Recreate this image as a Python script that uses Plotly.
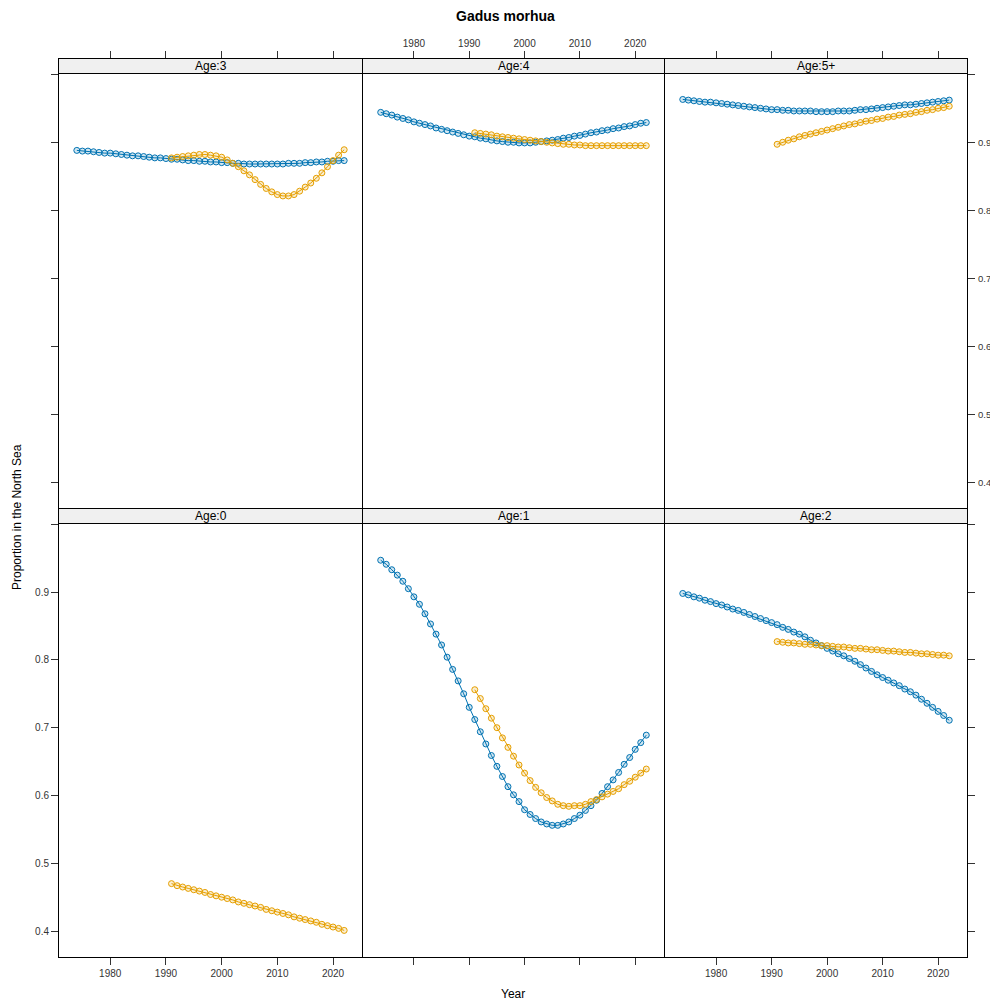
import plotly.graph_objects as go

# ---------------- data ----------------
panels = ["Age:3", "Age:4", "Age:5+", "Age:0", "Age:1", "Age:2"]

years_blue = list(range(1974, 2023))
years_orange = list(range(1991, 2023))

blue_age3 = [0.888, 0.887, 0.887, 0.886, 0.885, 0.884, 0.884, 0.883, 0.882, 0.881,
             0.880, 0.880, 0.879, 0.878, 0.877, 0.877, 0.876, 0.875, 0.875, 0.874,
             0.873, 0.873, 0.872, 0.872, 0.871, 0.871, 0.870, 0.870, 0.869, 0.869,
             0.868, 0.868, 0.868, 0.868, 0.868, 0.868, 0.868, 0.868, 0.869, 0.869,
             0.869, 0.870, 0.870, 0.871, 0.871, 0.872, 0.872, 0.873, 0.873]
orange_age3 = [0.877, 0.878, 0.879, 0.880, 0.881, 0.882, 0.882, 0.881, 0.880, 0.878,
               0.874, 0.869, 0.864, 0.858, 0.852, 0.845, 0.838, 0.832, 0.827, 0.823,
               0.821, 0.821, 0.823, 0.828, 0.834, 0.840, 0.847, 0.855, 0.864, 0.873,
               0.881, 0.889]

blue_age4 = [0.944, 0.942, 0.940, 0.937, 0.935, 0.933, 0.930, 0.928, 0.926, 0.924,
             0.921, 0.919, 0.917, 0.915, 0.913, 0.911, 0.909, 0.908, 0.906, 0.905,
             0.903, 0.902, 0.901, 0.900, 0.900, 0.899, 0.899, 0.899, 0.900, 0.901,
             0.902, 0.903, 0.904, 0.906, 0.907, 0.909, 0.910, 0.912, 0.914, 0.915,
             0.917, 0.918, 0.920, 0.921, 0.923, 0.924, 0.926, 0.928, 0.929]
orange_age4 = [0.914, 0.913, 0.912, 0.911, 0.909, 0.908, 0.907, 0.906, 0.905, 0.904,
               0.903, 0.902, 0.901, 0.900, 0.899, 0.898, 0.897, 0.897, 0.896, 0.896,
               0.895, 0.895, 0.895, 0.895, 0.895, 0.895, 0.895, 0.895, 0.895, 0.895,
               0.895, 0.895]

blue_age5 = [0.963, 0.962, 0.961, 0.960, 0.959, 0.959, 0.958, 0.957, 0.956, 0.955,
             0.954, 0.953, 0.952, 0.951, 0.950, 0.949, 0.948, 0.948, 0.947, 0.947,
             0.946, 0.946, 0.946, 0.946, 0.945, 0.945, 0.945, 0.945, 0.946, 0.946,
             0.946, 0.947, 0.948, 0.948, 0.949, 0.950, 0.951, 0.952, 0.953, 0.954,
             0.955, 0.955, 0.956, 0.957, 0.958, 0.959, 0.960, 0.961, 0.962]
orange_age5 = [0.897, 0.900, 0.903, 0.905, 0.908, 0.910, 0.912, 0.914, 0.916, 0.918,
               0.920, 0.922, 0.924, 0.926, 0.927, 0.929, 0.931, 0.932, 0.934, 0.935,
               0.937, 0.938, 0.940, 0.941, 0.942, 0.944, 0.945, 0.947, 0.948, 0.950,
               0.951, 0.953]

blue_age0 = []
orange_age0 = [0.470, 0.467, 0.465, 0.463, 0.461, 0.459, 0.457, 0.454, 0.452, 0.450,
               0.448, 0.446, 0.443, 0.441, 0.439, 0.437, 0.435, 0.432, 0.430, 0.428,
               0.426, 0.424, 0.421, 0.419, 0.417, 0.415, 0.413, 0.410, 0.408, 0.406,
               0.404, 0.401]

blue_age1 = [0.947, 0.941, 0.933, 0.925, 0.916, 0.905, 0.893, 0.882, 0.868, 0.853,
             0.838, 0.822, 0.804, 0.786, 0.769, 0.750, 0.730, 0.712, 0.694, 0.676,
             0.659, 0.643, 0.628, 0.613, 0.601, 0.591, 0.579, 0.572, 0.566, 0.561,
             0.558, 0.556, 0.556, 0.558, 0.561, 0.566, 0.571, 0.578, 0.585, 0.593,
             0.603, 0.613, 0.623, 0.634, 0.646, 0.656, 0.668, 0.678, 0.689]
orange_age1 = [0.756, 0.743, 0.728, 0.714, 0.700, 0.685, 0.671, 0.658, 0.645, 0.633,
               0.622, 0.612, 0.604, 0.597, 0.592, 0.587, 0.585, 0.584, 0.585, 0.585,
               0.587, 0.591, 0.594, 0.598, 0.602, 0.606, 0.610, 0.616, 0.621, 0.627,
               0.633, 0.639]

blue_age2 = [0.898, 0.896, 0.893, 0.891, 0.888, 0.886, 0.883, 0.881, 0.878, 0.875,
             0.873, 0.870, 0.867, 0.864, 0.861, 0.858, 0.855, 0.852, 0.848, 0.845,
             0.841, 0.838, 0.834, 0.829, 0.825, 0.821, 0.817, 0.813, 0.809, 0.806,
             0.802, 0.798, 0.793, 0.788, 0.783, 0.778, 0.774, 0.770, 0.766, 0.762,
             0.757, 0.753, 0.748, 0.742, 0.736, 0.730, 0.724, 0.718, 0.711]
orange_age2 = [0.827, 0.826, 0.825, 0.825, 0.824, 0.823, 0.823, 0.822, 0.821, 0.821,
               0.820, 0.819, 0.819, 0.818, 0.817, 0.817, 0.816, 0.815, 0.815, 0.814,
               0.813, 0.813, 0.812, 0.811, 0.811, 0.810, 0.809, 0.809, 0.808, 0.807,
               0.807, 0.806]

blue_series = [blue_age3, blue_age4, blue_age5, blue_age0, blue_age1, blue_age2]
orange_series = [orange_age3, orange_age4, orange_age5, orange_age0, orange_age1, orange_age2]

x_ticks = [1980, 1990, 2000, 2010, 2020]
y_ticks = [0.4, 0.5, 0.6, 0.7, 0.8, 0.9, 1.0]
y_tick_text = ["0.4", "0.5", "0.6", "0.7", "0.8", "0.9", ""]

# ---------------- layout geometry ----------------
W, H = 990, 1003
BLUE = "#0072B2"
ORANGE = "#E69F00"
FONT = "Liberation Sans, Arial, sans-serif"


def fx(p):
    return p / W


def fy(p):
    return 1 - p / H


# neighbouring domains are offset by 1px so the shared borders overlap exactly
col_edges = [(59, 362), (363, 664), (665, 967)]
# (strip_top, panel_top, panel_bottom)
row_edges = [(59, 73, 508), (509, 523, 957)]
X_RANGE = [1970.8, 2025.2]
Y0, Y1 = 0.3618, 1.0019

fig = go.Figure()
shapes = []
annotations = []

for i, name in enumerate(panels):
    r, c = divmod(i, 3)
    xl, xr = col_edges[c]
    st, pt, pb = row_edges[r]
    k = i + 1
    xa = "x" if k == 1 else f"x{k}"
    ya = "y" if k == 1 else f"y{k}"

    per_px = (Y1 - Y0) / (pb - pt)
    y_top = Y1 + (pt - st) * per_px

    if blue_series[i]:
        fig.add_trace(go.Scatter(
            x=years_blue, y=blue_series[i], mode="lines+markers",
            line=dict(color=BLUE, width=1),
            marker=dict(symbol="circle", size=6, color="rgba(0,114,178,0.18)",
                        line=dict(color=BLUE, width=1)),
            xaxis=xa, yaxis=ya, showlegend=False))
    if orange_series[i]:
        fig.add_trace(go.Scatter(
            x=years_orange, y=orange_series[i], mode="lines+markers",
            line=dict(color=ORANGE, width=1),
            marker=dict(symbol="circle", size=6, color="rgba(230,159,0,0.18)",
                        line=dict(color=ORANGE, width=1)),
            xaxis=xa, yaxis=ya, showlegend=False))

    top_row = r == 0
    xaxis = dict(
        domain=[fx(xl), fx(xr)], anchor=ya, range=X_RANGE,
        tickvals=x_ticks, ticks="outside", ticklen=7, tickwidth=1, tickcolor="#333",
        side="top" if top_row else "bottom",
        showticklabels=(c == 1) if top_row else (c != 1),
        showline=True, linecolor="black", linewidth=1, mirror=True,
        showgrid=False, zeroline=False,
        tickfont=dict(family=FONT, size=10, color="#333"),
    )
    yaxis = dict(
        domain=[fy(pb), fy(st)], anchor=xa, range=[Y0, y_top],
        tickvals=y_ticks, ticktext=y_tick_text,
        ticks="" if c == 1 else "outside", ticklen=7,
        tickwidth=1, tickcolor="#333",
        side="right" if c == 2 else "left",
        showticklabels=(c == 0 and r == 1),
        showline=True, linecolor="black", linewidth=1, mirror=True,
        showgrid=False, zeroline=False,
        tickfont=dict(family=FONT, size=10, color="#333"),
    )
    fig.layout["xaxis" if k == 1 else f"xaxis{k}"] = xaxis
    fig.layout["yaxis" if k == 1 else f"yaxis{k}"] = yaxis

    shapes.append(dict(type="rect", xref="paper", yref="paper",
                       x0=fx(xl), x1=fx(xr), y0=fy(pt), y1=fy(st),
                       fillcolor="#F0F0F0", line=dict(width=0),
                       layer="below"))
    shapes.append(dict(type="line", xref="paper", yref="paper",
                       x0=fx(xl), x1=fx(xr), y0=fy(pt + 0.5), y1=fy(pt + 0.5),
                       line=dict(color="black", width=1), layer="above"))
    annotations.append(dict(text=name, xref="paper", yref="paper",
                            x=fx((xl + xr) / 2), y=fy((st + pt) / 2),
                            xanchor="center", yanchor="middle", showarrow=False,
                            font=dict(family=FONT, size=12, color="black")))

    # right-hand tick labels of the top-right panel
    if r == 0 and c == 2:
        for v, t in zip(y_ticks, y_tick_text):
            if t:
                ypix = pt + (Y1 - v) / per_px
                annotations.append(dict(text=t, xref="paper", yref="paper",
                                        x=fx(976), y=fy(ypix), xanchor="left",
                                        yanchor="middle", showarrow=False,
                                        font=dict(family=FONT, size=9.5, color="#333")))

annotations.append(dict(text="<b>Gadus morhua</b>", xref="paper", yref="paper",
                        x=fx(506), y=fy(16), xanchor="center", yanchor="middle",
                        showarrow=False, font=dict(family=FONT, size=14, color="black")))
annotations.append(dict(text="Year", xref="paper", yref="paper",
                        x=fx(513), y=fy(994), xanchor="center", yanchor="middle",
                        showarrow=False, font=dict(family=FONT, size=12, color="black")))
annotations.append(dict(text="Proportion in the North Sea", xref="paper", yref="paper",
                        x=fx(17), y=fy(517), xanchor="center", yanchor="middle",
                        textangle=-90, showarrow=False,
                        font=dict(family=FONT, size=12, color="black")))

fig.update_layout(
    width=W, height=H,
    margin=dict(l=0, r=0, t=0, b=0),
    paper_bgcolor="white", plot_bgcolor="white",
    shapes=shapes, annotations=annotations,
    showlegend=False,
)

fig.write_html(
    "out.html",
    config={"displayModeBar": False},
    post_script="document.body.style.margin='0';document.body.style.overflow='hidden';",
)
